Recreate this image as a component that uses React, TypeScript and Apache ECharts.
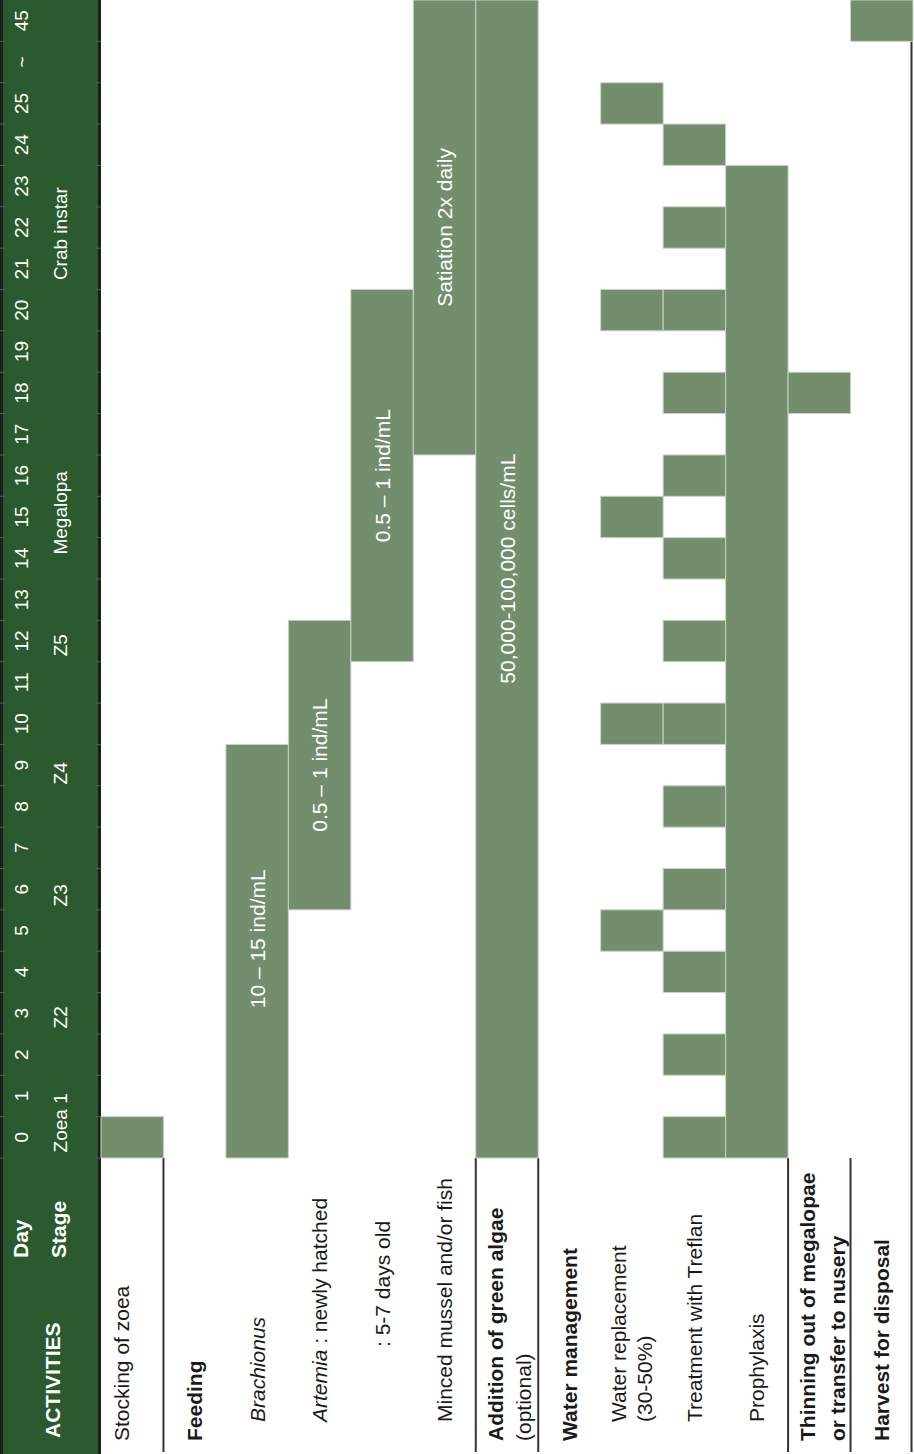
import React, { useEffect, useRef } from "react";
import * as echarts from "echarts";

// ---------- data ----------
const dayLabels = [
  "0", "1", "2", "3", "4", "5", "6", "7", "8", "9", "10", "11", "12", "13",
  "14", "15", "16", "17", "18", "19", "20", "21", "22", "23", "24", "25", "~", "45",
];
const stageNames = ["Zoea 1", "Z2", "Z3", "Z4", "Z5", "Megalopa", "Crab instar"];
const stageRows = [0.85, 3.4, 6.35, 9.3, 12.4, 15.6, 22.35];

const activityLabels = [
  "{n|Stocking of zoea}",
  "{b|Feeding}",
  "{i|Brachionus}",
  "{i|Artemia}{n| : newly hatched}",
  "{n|: 5-7 days old}",
  "{n|Minced mussel and/or fish}",
  "{b|Addition of green algae}\n{n|(optional)}",
  "{b|Water management}",
  "{n|Water replacement}\n{n|(30-50%)}",
  "{n|Treatment with Treflan}",
  "{n|Prophylaxis}",
  "{b|Thinning out of megalopae}\n{b|or transfer to nusery}",
  "{b|Harvest for disposal}",
];

// schedule: [startRow, endRow] (inclusive row indexes into dayLabels)
const stockingRows = [[0, 0]];
const brachionusRows = [[0, 9]];
const artemiaNewRows = [[6, 12]];
const artemiaOldRows = [[12, 20]];
const mincedRows = [[17, 27]];
const algaeRows = [[0, 27]];
const waterReplacementRows = [[5, 5], [10, 10], [15, 15], [20, 20], [25, 25]];
const treflanRows = [
  [0, 0], [2, 2], [4, 4], [6, 6], [8, 8], [10, 10], [12, 12],
  [14, 14], [16, 16], [18, 18], [20, 20], [22, 22], [24, 24],
];
const prophylaxisRows = [[0, 23]];
const thinningRows = [[18, 18]];
const harvestRows = [[27, 27]];

const brachionusText = "10 – 15 ind/mL";
const artemiaNewText = "0.5 – 1 ind/mL";
const artemiaOldText = "0.5 – 1 ind/mL";
const mincedText = "Satiation 2x daily";
const algaeText = "50,000-100,000 cells/mL";

const groupBoundaries = [1, 6, 7, 11, 12, 13];

// ---------- styles / layout ----------
const FONT = '"Liberation Sans", Arial, Helvetica, sans-serif';
const HEADER_GREEN = "#2b5a2e";
const BAR_GREEN = "#738e6c";
const BORDER = "#1e1e1e";
const TEXT_DARK = "#1a1a1a";
const activityIndent = [0, 0, 19, 19, 94, 19, 0, 0, 19, 19, 19, 0, 0];
const activityShift = [-11, 0, 0, 0, 0, 0, 2, 0, 0, 0, 0, 3, 0];
const activityLineHeight = [26, 26, 26, 26, 26, 26, 28, 26, 26, 26, 26, 30, 26];

const schedule = [
  { col: 0, rows: stockingRows, text: "" },
  { col: 2, rows: brachionusRows, text: brachionusText, labelAt: 5.3 },
  { col: 3, rows: artemiaNewRows, text: artemiaNewText },
  { col: 4, rows: artemiaOldRows, text: artemiaOldText },
  { col: 5, rows: mincedRows, text: mincedText },
  { col: 6, rows: algaeRows, text: algaeText, labelAt: 14.25 },
  { col: 8, rows: waterReplacementRows, text: "" },
  { col: 9, rows: treflanRows, text: "" },
  { col: 10, rows: prophylaxisRows, text: "" },
  { col: 11, rows: thinningRows, text: "" },
  { col: 12, rows: harvestRows, text: "" },
];

type BarItem = { col: number; start: number; end: number; text: string; labelAt?: number };
const barItems: BarItem[] = [];
schedule.forEach((s) => {
  s.rows.forEach((r) => {
    barItems.push({ col: s.col, start: r[0], end: r[1], text: s.text, labelAt: (s as any).labelAt });
  });
});

function richFor(lh: number) {
  const base = { fontSize: 21, fontFamily: FONT, fill: TEXT_DARK, lineHeight: lh };
  return {
    n: { ...base },
    b: { ...base, fontWeight: "bold" },
    i: { ...base, fontStyle: "italic" },
  };
}

export default function App() {
  const ref = useRef<HTMLDivElement>(null);

  useEffect(() => {
    if (!ref.current) return;
    const chart = echarts.init(ref.current, undefined, { renderer: "svg" });
    const H = 1454;
    const labelBase = 1441;

    const option: any = {
      animation: false,
      backgroundColor: "#ffffff",
      grid: { left: 101, right: 1, top: 0, bottom: 296, containLabel: false },
      xAxis: { type: "value", min: 0, max: 13, show: false },
      yAxis: { type: "value", min: 0, max: 28, show: false },
      graphic: [
        { type: "rect", z: 0, shape: { x: 0, y: 0, width: 101, height: H }, style: { fill: HEADER_GREEN } },
        { type: "rect", z: 0, shape: { x: 0, y: 0, width: 3, height: H }, style: { fill: BORDER } },
        { type: "rect", z: 0, shape: { x: 98, y: 0, width: 3, height: H }, style: { fill: BORDER } },
        {
          type: "text", z: 5, x: 20, y: 1258, rotation: Math.PI / 2,
          style: { text: "Day", fill: "#ffffff", fontSize: 21, fontWeight: "bold", fontFamily: FONT, align: "left", verticalAlign: "middle" },
        },
        {
          type: "text", z: 5, x: 58, y: 1258, rotation: Math.PI / 2,
          style: { text: "Stage", fill: "#ffffff", fontSize: 21, fontWeight: "bold", fontFamily: FONT, align: "left", verticalAlign: "middle" },
        },
        {
          type: "text", z: 5, x: 52, y: 1438, rotation: Math.PI / 2,
          style: { text: "ACTIVITIES", fill: "#ffffff", fontSize: 21, fontWeight: "bold", fontFamily: FONT, align: "left", verticalAlign: "middle" },
        },
      ],
      series: [
        {
          type: "custom",
          name: "separators",
          z: 1,
          silent: true,
          data: groupBoundaries.map((c) => [c]),
          renderItem: (params: any, api: any) => {
            const c = api.value(0);
            const isEdge = c === 13;
            const p = api.coord([c, 0]);
            const top = isEdge ? api.coord([c, 28])[1] : p[1];
            const x = isEdge ? p[0] - 1.5 : p[0];
            return {
              type: "line",
              shape: { x1: x, y1: top, x2: x, y2: H - 2 },
              style: { stroke: "#333333", lineWidth: 2 },
            };
          },
        },
        {
          type: "custom",
          name: "schedule",
          z: 3,
          data: barItems.map((b) => [b.col, b.start, b.end]),
          renderItem: (params: any, api: any) => {
            const it = barItems[params.dataIndex];
            const col = api.value(0);
            const s = api.value(1);
            const e = api.value(2);
            const lb = api.coord([col, s]);
            const rt = api.coord([col + 1, e + 1]);
            const children: any[] = [
              {
                type: "rect",
                shape: { x: lb[0], y: rt[1], width: rt[0] - lb[0], height: lb[1] - rt[1] },
                style: { fill: BAR_GREEN, stroke: "#c8d3c5", lineWidth: 1 },
              },
            ];
            if (it.text) {
              const cy = it.labelAt != null ? api.coord([col, it.labelAt])[1] : (lb[1] + rt[1]) / 2;
              children.push({
                type: "text",
                x: (lb[0] + rt[0]) / 2,
                y: cy,
                rotation: Math.PI / 2,
                style: {
                  text: it.text, fill: "#ffffff", fontSize: 21, fontFamily: FONT,
                  align: "center", verticalAlign: "middle",
                },
              });
            }
            return { type: "group", children };
          },
        },
        {
          type: "custom",
          name: "days",
          z: 4,
          silent: true,
          data: dayLabels.map((_, i) => [i]),
          renderItem: (params: any, api: any) => {
            const i = api.value(0);
            const yc = api.coord([0, i + 0.5])[1];
            const yb = api.coord([0, i])[1];
            return {
              type: "group",
              children: [
                {
                  type: "text", x: 21, y: yc, rotation: Math.PI / 2,
                  style: { text: dayLabels[i], fill: "#ffffff", fontSize: 19, fontFamily: FONT, align: "center", verticalAlign: "middle" },
                },
                { type: "line", shape: { x1: 0, y1: yb, x2: 5, y2: yb }, style: { stroke: "#5f5f5f", lineWidth: 1 } },
                { type: "line", shape: { x1: 96, y1: yb, x2: 101, y2: yb }, style: { stroke: "#5f5f5f", lineWidth: 1 } },
              ],
            };
          },
        },
        {
          type: "custom",
          name: "stages",
          z: 4,
          silent: true,
          data: stageRows.map((v) => [v]),
          renderItem: (params: any, api: any) => {
            const yc = api.coord([0, api.value(0)])[1];
            return {
              type: "text", x: 60, y: yc, rotation: Math.PI / 2,
              style: { text: stageNames[params.dataIndex], fill: "#ffffff", fontSize: 19, fontFamily: FONT, align: "center", verticalAlign: "middle" },
            };
          },
        },
        {
          type: "custom",
          name: "activities",
          z: 4,
          silent: true,
          data: activityLabels.map((_, i) => [i]),
          renderItem: (params: any, api: any) => {
            const i = api.value(0);
            const x = api.coord([i + 0.5, 0])[0] + activityShift[i];
            return {
              type: "text", x, y: labelBase - activityIndent[i], rotation: Math.PI / 2,
              style: {
                text: activityLabels[i],
                rich: richFor(activityLineHeight[i]),
                fill: TEXT_DARK, fontSize: 21, fontFamily: FONT,
                align: "left", verticalAlign: "middle",
              },
            };
          },
        },
      ],
    };

    chart.setOption(option);
    return () => chart.dispose();
  }, []);

  return (
    <div
      ref={ref}
      style={{ position: "absolute", left: 0, top: 0, width: 914, height: 1454, background: "#fff" }}
    />
  );
}
